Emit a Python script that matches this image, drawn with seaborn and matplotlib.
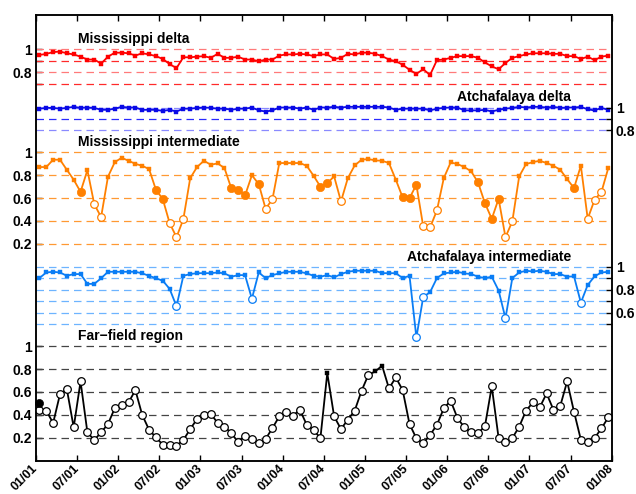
import numpy as np
import pandas as pd
import matplotlib
matplotlib.use("Agg")
import matplotlib.pyplot as plt
import seaborn as sns

# ---------------------------------------------------------------- data
# monthly values, Jan 2001 .. Dec 2007 (plotted at mid-month)
tick_labels = ["01/01", "07/01", "01/02", "07/02", "01/03", "07/03", "01/04",
               "07/04", "01/05", "07/05", "01/06", "07/06", "01/07", "07/07",
               "01/08"]

miss_delta = [0.95, 0.96, 0.975, 0.98, 0.965, 0.955, 0.935, 0.91, 0.91, 0.875,
              0.935, 0.97, 0.97, 0.965, 0.945, 0.965, 0.955, 0.94, 0.915, 0.87,
              0.835, 0.93, 0.93, 0.935, 0.94, 0.925, 0.96, 0.925, 0.925, 0.935,
              0.91, 0.91, 0.895, 0.91, 0.91, 0.945, 0.955, 0.955, 0.96, 0.955,
              0.94, 0.955, 0.955, 0.915, 0.925, 0.96, 0.955, 0.97, 0.97, 0.96,
              0.94, 0.91, 0.895, 0.865, 0.82, 0.785, 0.825, 0.775, 0.905, 0.91,
              0.925, 0.94, 0.94, 0.94, 0.925, 0.885, 0.85, 0.825, 0.88, 0.925,
              0.94, 0.955, 0.965, 0.965, 0.965, 0.96, 0.96, 0.94, 0.94, 0.915,
              0.935, 0.905, 0.935, 0.945]
miss_delta_mk = "s" * 84

atch_delta = [0.99, 0.997, 0.997, 0.99, 0.997, 1.006, 0.997, 1.0, 0.997, 0.98,
              0.98, 0.99, 1.006, 1.0, 1.0, 0.98, 0.98, 0.98, 0.97, 0.98,
              0.965, 0.99, 0.99, 0.997, 1.0, 0.997, 0.99, 0.99, 0.98, 0.99,
              0.99, 1.0, 0.975, 0.965, 0.975, 1.0, 1.0, 1.0, 0.99, 1.0,
              0.98, 1.0, 1.0, 1.006, 1.0, 1.006, 1.006, 1.006, 1.006, 1.006,
              1.006, 1.0, 0.98, 0.99, 0.99, 0.99, 0.99, 0.975, 0.99, 0.997,
              1.0, 1.0, 0.975, 0.975, 0.975, 0.98, 0.965, 0.98, 0.99, 0.997,
              1.006, 1.0, 1.006, 1.006, 1.0, 1.006, 0.997, 1.0, 1.0, 1.006,
              0.984, 0.975, 0.997, 0.98]
atch_delta_mk = "s" * 84

miss_int = [0.872, 0.872, 0.936, 0.936, 0.848, 0.761, 0.655, 0.845, 0.547, 0.434,
            0.787, 0.915, 0.953, 0.927, 0.90, 0.883, 0.854, 0.673, 0.591, 0.381,
            0.258, 0.416, 0.775, 0.872, 0.927, 0.892, 0.904, 0.863, 0.685, 0.673,
            0.623, 0.80, 0.723, 0.507, 0.59, 0.907, 0.907, 0.907, 0.907, 0.883,
            0.796, 0.70, 0.731, 0.79, 0.571, 0.775, 0.886, 0.936, 0.942, 0.93,
            0.927, 0.907, 0.761, 0.606, 0.60, 0.717, 0.352, 0.343, 0.492, 0.775,
            0.912, 0.898, 0.872, 0.834, 0.737, 0.556, 0.419, 0.594, 0.258, 0.396,
            0.79, 0.898, 0.915, 0.927, 0.907, 0.883, 0.848, 0.766, 0.688, 0.883,
            0.419, 0.585, 0.653, 0.863]
miss_int_mk = ("ssssssfsoo" "sssssssffo" "oossssssff" "fsfoosssss" "sffsosssss"
               "sssfffooos" "ssssffffoo" "ssssssssfs" "ooos")

atch_int = [0.902, 0.951, 0.957, 0.951, 0.922, 0.937, 0.937, 0.851, 0.851, 0.90,
            0.957, 0.957, 0.957, 0.957, 0.957, 0.943, 0.922, 0.90, 0.879, 0.807,
            0.655, 0.922, 0.937, 0.945, 0.945, 0.945, 0.951, 0.943, 0.914, 0.928,
            0.928, 0.721, 0.951, 0.902, 0.928, 0.943, 0.957, 0.957, 0.957, 0.943,
            0.922, 0.914, 0.928, 0.908, 0.937, 0.957, 0.966, 0.966, 0.966, 0.966,
            0.945, 0.945, 0.945, 0.902, 0.922, 0.382, 0.736, 0.779, 0.902, 0.943,
            0.951, 0.957, 0.943, 0.937, 0.914, 0.902, 0.914, 0.793, 0.55, 0.902,
            0.951, 0.966, 0.96, 0.966, 0.957, 0.937, 0.937, 0.914, 0.917, 0.687,
            0.842, 0.917, 0.951, 0.957]
atch_int_mk = ("ssssssssss" "ssssssssss" "osssssssss" "sossssssss" "ssssssssss"
               "sssssoosss" "ssssssssos" "ssssssssso" "ssss")

far_field = [0.444, 0.436, 0.328, 0.58, 0.625, 0.29, 0.692, 0.246, 0.179, 0.246,
             0.319, 0.459, 0.485, 0.508, 0.616, 0.398, 0.269, 0.202, 0.138, 0.135,
             0.129, 0.179, 0.275, 0.363, 0.40, 0.41, 0.328, 0.296, 0.24, 0.159,
             0.217, 0.188, 0.15, 0.188, 0.284, 0.386, 0.421, 0.392, 0.444, 0.313,
             0.266, 0.196, 0.765, 0.386, 0.275, 0.357, 0.436, 0.61, 0.75, 0.78,
             0.83, 0.631, 0.727, 0.616, 0.319, 0.194, 0.15, 0.223, 0.313, 0.456,
             0.523, 0.371, 0.29, 0.246, 0.24, 0.299, 0.648, 0.196, 0.164, 0.196,
             0.296, 0.436, 0.508, 0.465, 0.587, 0.444, 0.479, 0.692, 0.427, 0.182,
             0.164, 0.196, 0.281, 0.377]
far_field_mk = ("oooooooooo" "oooooooooo" "oooooooooo" "oooooooooo" "oosoooooos"
                "sooooooooo" "oooooooooo" "oooooooooo" "oooo")
# an additional January 2001 far-field observation
far_extra_month = [0]
far_extra_value = [0.50]

# --------------------------------------------------------------- style
sns.set_theme(style="ticks")
plt.rcParams["font.family"] = ["Liberation Sans", "DejaVu Sans"]
plt.rcParams["font.weight"] = "bold"
plt.rcParams["axes.edgecolor"] = "black"

months = np.arange(84) + 0.5
dash = (0, (6, 4))

series = [
    dict(name="Mississippi delta", vals=miss_delta, mk=miss_delta_mk, off=2.60,
         color="#ff0000", grid=[1.0, 0.9, 0.8, 0.7], labeled=[1.0, 0.8],
         gmajor="#ff7a7a", gminor="#ff2a2a", side="left"),
    dict(name="Atchafalaya delta", vals=atch_delta, mk=atch_delta_mk, off=2.09,
         color="#0a0ae6", grid=[1.0, 0.9, 0.8], labeled=[1.0, 0.8],
         gmajor="#8a8aff", gminor="#2a2aff", side="right"),
    dict(name="Mississippi intermediate", vals=miss_int, mk=miss_int_mk, off=1.697,
         color="#ff8000", grid=[1.0, 0.8, 0.6, 0.4, 0.2],
         labeled=[1.0, 0.8, 0.6, 0.4, 0.2],
         gmajor="#ff9933", gminor="#ff9933", side="left"),
    dict(name="Atchafalaya intermediate", vals=atch_int, mk=atch_int_mk, off=0.695,
         color="#0a7df5", grid=[1.0, 0.9, 0.8, 0.7, 0.6, 0.5],
         labeled=[1.0, 0.8, 0.6],
         gmajor="#6db4ff", gminor="#6db4ff", side="right"),
    dict(name="Far\u2212field region", vals=far_field, mk=far_field_mk, off=0.0,
         color="#000000", grid=[1.0, 0.8, 0.6, 0.4, 0.2],
         labeled=[1.0, 0.8, 0.6, 0.4, 0.2],
         gmajor="#444444", gminor="#444444", side="left"),
]

fig = plt.figure(figsize=(6.36, 4.94), dpi=100)
ax = fig.add_axes([36 / 636, 1 - 460.5 / 494, 575.7 / 636, 445.5 / 494])

left_pos, left_lab, right_pos, right_lab = [], [], [], []

for s in series:
    off, c = s["off"], s["color"]
    # dashed reference levels
    for lvl in s["grid"]:
        gc = s["gmajor"] if lvl in s["labeled"] else s["gminor"]
        ax.axhline(off + lvl, color=gc, lw=0.9, ls=dash, zorder=1)
        lab = (f"{lvl:g}" if lvl in s["labeled"] else "")
        if s["side"] == "left":
            left_pos.append(off + lvl); left_lab.append(lab)
        else:
            right_pos.append(off + lvl); right_lab.append(lab)

    df = pd.DataFrame({"month": months, "y": off + np.asarray(s["vals"]),
                       "mk": list(s["mk"])})
    sns.lineplot(data=df, x="month", y="y", color=c, lw=1.3, estimator=None,
                 sort=False, ax=ax, zorder=2)

    sq = df[df.mk == "s"]
    fc = df[df.mk == "f"]
    oc = df[df.mk == "o"]
    if len(sq):
        sns.scatterplot(data=sq, x="month", y="y", marker="s", s=11, color=c,
                        edgecolor=c, linewidth=0.3, ax=ax, zorder=3, legend=False)
    if len(fc):
        sns.scatterplot(data=fc, x="month", y="y", marker="o", s=36, color=c,
                        edgecolor=c, linewidth=0.5, ax=ax, zorder=3, legend=False)
    if len(oc):
        sns.scatterplot(data=oc, x="month", y="y", marker="o", s=30, color="white",
                        edgecolor=c, linewidth=0.9, ax=ax, zorder=4, legend=False)

    tx = 0.073 if s["side"] == "left" else 0.929
    ax.text(tx, off + 1.09, s["name"], transform=ax.get_yaxis_transform(),
            ha="left" if s["side"] == "left" else "right", va="center",
            fontsize=10, fontweight="bold", color="black", zorder=5)

# extra far-field marker
sns.scatterplot(x=np.asarray(far_extra_month) + 0.5, y=far_extra_value,
                marker="o", s=34, color="black", edgecolor="black",
                ax=ax, zorder=5, legend=False, clip_on=False)

ax.set_xlim(0, 84)
ax.set_ylim(0, 3.9)
ax.set_xlabel("")
ax.set_ylabel("")
ax.set_xticks(np.arange(0, 85, 6))
ax.set_xticklabels(tick_labels, rotation=45, ha="right", va="center",
                   rotation_mode="anchor", fontsize=9, fontweight="bold")
ax.tick_params(axis="x", direction="in", top=True, bottom=True, length=4,
               width=1, pad=4.5, colors="black")
ax.set_yticks(left_pos)
ax.set_yticklabels(left_lab, fontsize=10, fontweight="bold")
ax.tick_params(axis="y", direction="in", left=True, right=False, length=4,
               width=1, pad=3, colors="black")

ax2 = ax.twinx()
ax2.set_ylim(0, 3.9)
ax2.set_yticks(right_pos)
ax2.set_yticklabels(right_lab, fontsize=10, fontweight="bold")
ax2.tick_params(axis="y", direction="in", right=True, length=4, width=1, pad=3,
                colors="black")
ax2.set_ylabel("")

for a in (ax, ax2):
    for sp in a.spines.values():
        sp.set_color("black")
        sp.set_linewidth(1.1)

fig.savefig("out.png", dpi=100)
